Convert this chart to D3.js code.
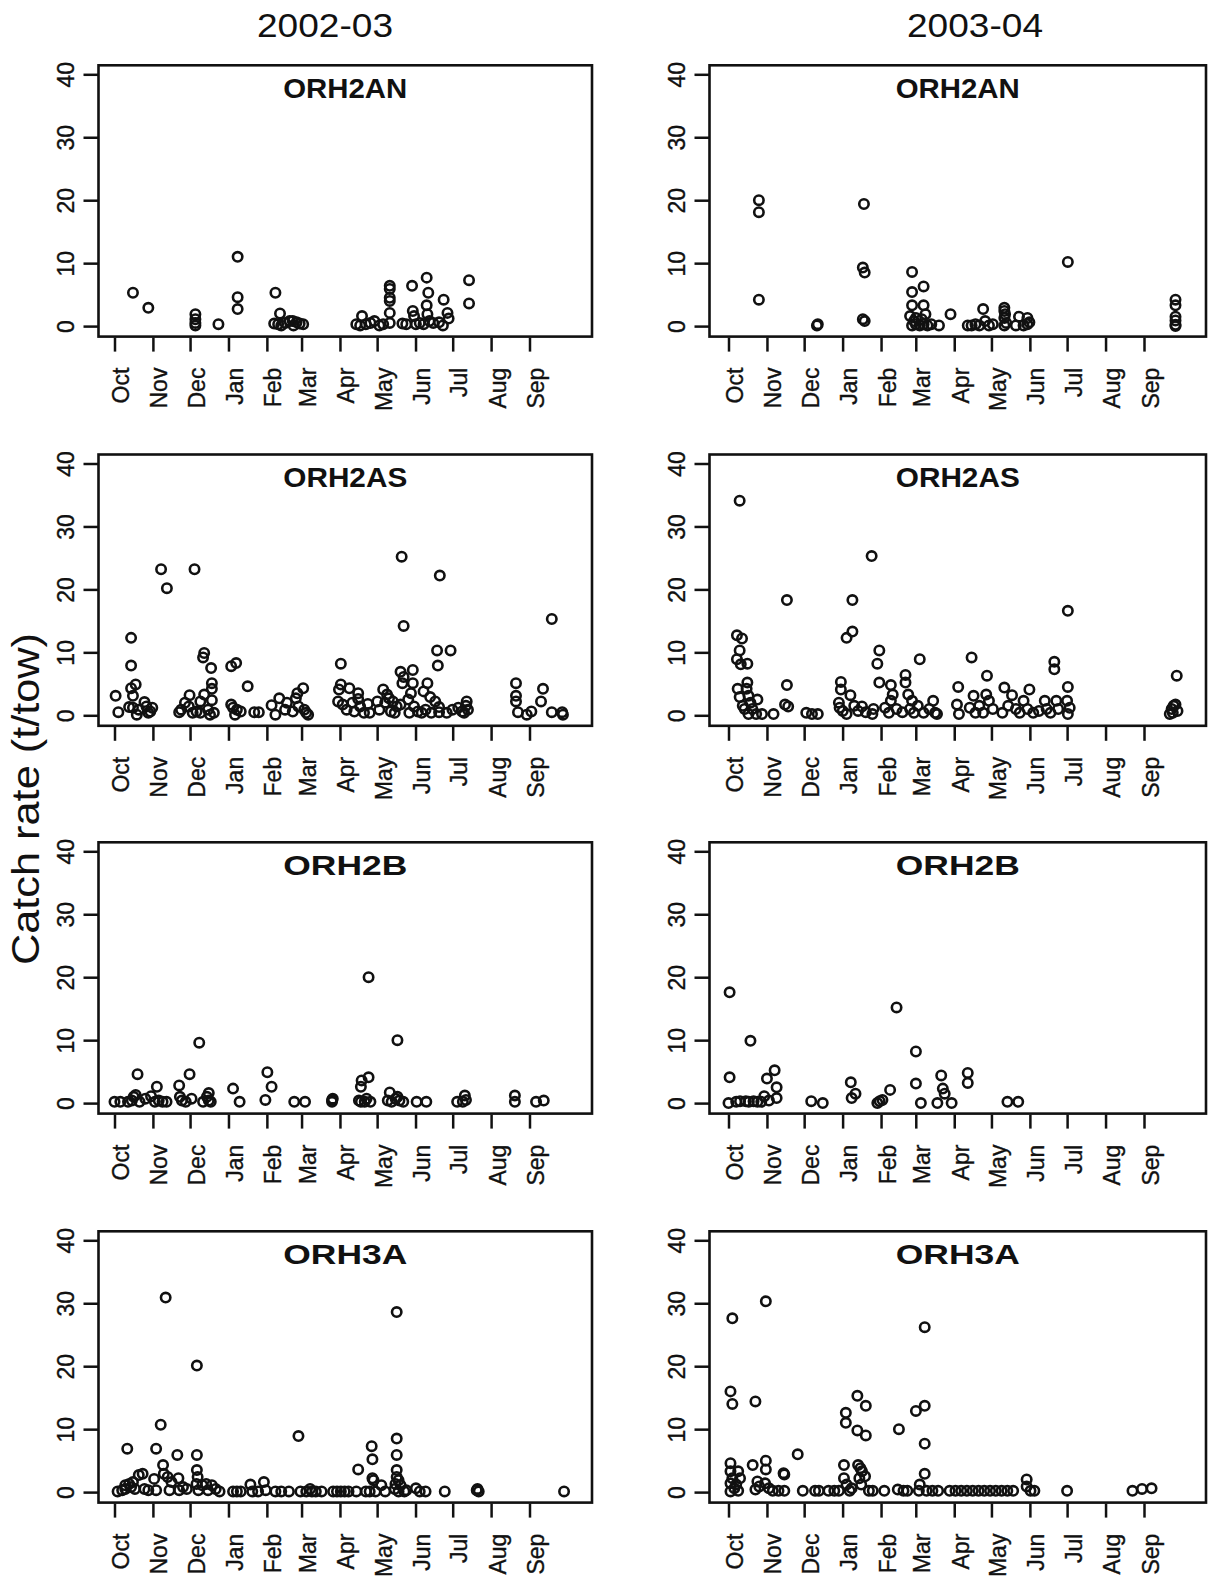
<!DOCTYPE html>
<html>
<head>
<meta charset="utf-8">
<script src="https://cdn.jsdelivr.net/npm/d3@7/dist/d3.min.js"></script>
<style>
  html, body { margin: 0; padding: 0; background: #fff; }
  svg { display: block; }
  text { font-family: "Liberation Sans", Arial, Helvetica, sans-serif; fill: #111; }
</style>
</head>
<body>
<svg id="chart" width="1208" height="1580"></svg>
<script>
// ---------------- DATA ----------------
const seasons = ["2002-03", "2003-04"];
const areas = ["ORH2AN", "ORH2AS", "ORH2B", "ORH3A"];
const monthLabels = ["Oct","Nov","Dec","Jan","Feb","Mar","Apr","May","Jun","Jul","Aug","Sep"];
const monthDays = [0, 31, 61, 92, 123, 151, 182, 212, 243, 273, 304, 335]; // days since 1 Oct
const yTickValues = [0, 10, 20, 30, 40];
const yTitle = "Catch rate (t/tow)";

// each point: [day of fishing year (0 = 1 Oct), catch rate t/tow]
const orh2an_0203 = [
  [14.9,5.3],[27.3,2.9],[65.3,1.9],[65.3,1.1],[65.3,0.5],[65.3,0.1],[83.9,0.3],
  [99.4,11.0],[99.4,4.6],[99.4,2.7],[129.9,5.3],[133.6,2.0],
  [128.9,0.4],[132.1,0.3],[137.7,0.5],[141.4,0.8],[144.5,0.1],[147.0,0.6],[149.5,0.4],[152.3,0.3],[143.9,0.8],[134.6,0.1],
  [195.2,0.3],[198.3,0.1],[199.8,1.6],[202.9,0.3],[206.6,0.5],[209.8,0.8],[213.8,0.1],[216.9,0.3],
  [222.2,6.4],[222.2,5.9],[222.2,4.5],[222.2,4.0],[222.2,2.1],[222.2,0.5],
  [232.4,0.4],[235.5,0.3],[240.2,6.4],[240.8,2.4],[241.8,1.6],[243.3,0.3],[246.4,0.5],
  [252.0,7.7],[253.3,5.3],[252.0,3.3],[252.6,1.9],[249.5,0.3],[254.2,0.8],[257.3,0.5],[262.0,0.6],
  [265.7,4.2],[268.8,2.1],[269.7,1.2],[265.1,0.1],[286.2,7.3],[286.2,3.6]
];
const orh2an_0304 = [
  [24.5,20.0],[24.5,18.1],[24.5,4.2],[71.3,0.1],[72.0,0.3],
  [109.2,19.4],[108.3,9.3],[109.8,8.5],[108.3,1.1],[109.8,0.8],
  [148.0,8.6],[148.0,5.4],[157.3,6.3],[148.0,3.3],[157.3,3.3],[146.4,1.6],[151.1,1.3],[158.8,1.9],
  [148.0,0.1],[151.1,0.3],[154.2,0.1],[157.3,0.3],[160.4,0.1],[163.5,0.3],[169.7,0.1],[149.5,0.8],[155.8,1.1],
  [179.0,1.9],[192.9,0.1],[196.0,0.1],[199.1,0.3],[202.2,0.1],[205.3,2.7],[206.9,0.8],[210.0,0.1],[213.1,0.3],
  [222.4,2.9],[222.4,2.4],[223.0,1.9],[222.4,1.3],[223.9,0.5],[222.4,0.1],
  [234.2,1.5],[231.7,0.1],[237.9,0.1],[241.0,1.3],[242.6,0.6],[241.0,0.3],
  [273.6,10.2],
  [360.4,4.2],[360.4,3.3],[360.4,1.5],[360.4,0.9],[360.4,0.2],[360.4,0.0]
];
const orh2as_0203 = [
  [0.9,3.1],[3.1,0.5],[13.4,12.3],[13.4,7.9],[13.4,4.3],[17.1,4.9],[14.9,3.1],[11.8,1.3],[14.9,1.2],[18.0,0.1],
  [19.6,0.9],[24.2,2.1],[25.8,1.4],[28.9,0.6],[30.5,1.2],[27.3,0.4],
  [37.6,23.2],[42.3,20.2],
  [64.6,23.2],[60.6,3.2],[56.9,2.0],[52.2,0.5],[53.8,0.9],[60.0,1.4],[63.1,0.4],[66.2,0.6],[72.4,9.9],[71.5,9.2],
  [78.0,7.5],[78.6,5.1],[78.6,4.2],[72.4,3.3],[69.3,2.2],[78.6,2.4],[75.5,0.9],[80.2,0.4],[69.3,0.4],[77.1,0.1],
  [94.2,7.8],[98.2,8.3],[94.2,1.7],[95.7,1.2],[98.8,0.9],[101.9,0.6],[97.3,0.1],[107.5,4.6],[112.8,0.5],[116.5,0.5],
  [126.8,1.6],[129.9,0.1],[133.0,2.7],[137.7,0.9],[139.2,2.0],[143.9,0.6],[146.4,2.7],[148.5,1.4],[152.3,4.3],
  [147.6,3.5],[154.8,0.4],[153.2,0.9],[156.3,0.1],
  [182.7,8.2],[182.7,4.9],[181.2,4.1],[180.5,2.2],[184.2,1.7],[187.4,0.9],[189.6,4.3],[192.0,2.0],[196.7,3.5],
  [196.7,2.6],[198.3,1.4],[193.6,0.6],[201.4,0.4],[204.5,1.8],[206.0,0.4],[212.2,2.2],[213.8,0.9],
  [216.9,4.1],[220.0,3.3],[218.5,2.0],[221.6,2.7],[224.7,2.2],[227.8,1.4],[230.9,1.7],[223.1,0.6],[226.2,0.4],
  [231.8,25.2],[233.4,14.2],[230.9,6.9],[233.4,6.1],[232.4,5.1],[240.8,7.2],[240.8,5.1],[239.3,3.5],[237.1,2.5],
  [241.8,1.4],[244.9,0.6],[248.0,0.4],[238.0,0.4],[252.6,5.1],[249.5,3.8],[254.8,2.9],[258.9,2.2],[262.0,1.3],
  [255.7,0.4],[251.1,0.9],
  [262.6,22.2],[260.4,10.3],[261.0,7.9],[271.3,10.3],
  [262.0,0.5],[268.2,0.4],[272.8,0.9],[277.5,1.2],[280.6,0.6],[284.3,2.2],[283.7,1.5],[285.3,0.9],[282.2,0.4],
  [324.1,5.1],[324.1,3.1],[324.1,2.2],[325.7,0.5],[332.8,0.1],[336.5,0.6],[345.9,4.2],[344.3,2.2],
  [353.0,15.3],[353.0,0.5],[361.4,0.5],[362.0,0.1]
];
const orh2as_0304 = [
  [9.0,34.1],
  [6.8,12.7],[10.9,12.2],[9.0,10.3],[6.8,8.9],[9.9,8.1],[15.2,8.2],[7.4,4.2],[9.0,2.9],[15.2,5.2],[14.6,4.2],
  [16.1,3.1],[11.5,1.5],[13.0,1.0],[17.7,2.0],[19.2,1.0],[23.3,2.5],[16.1,0.2],[22.3,0.2],[27.0,0.2],[36.3,0.2],
  [47.1,18.3],[47.1,4.8],[45.6,1.7],[48.1,1.4],
  [62.7,0.4],[67.3,0.2],[72.0,0.2],
  [90.6,5.3],[90.6,4.1],[89.0,2.0],[89.6,1.2],[92.1,0.7],[95.2,0.2],[95.2,12.3],[99.9,18.3],[99.9,13.3],[98.3,3.2],
  [101.4,1.5],[104.5,0.7],[107.6,1.4],[110.7,0.5],[116.9,1.0],
  [115.4,25.3],[116.0,0.2],
  [121.6,10.3],[120.0,8.2],[121.6,5.2],[130.9,4.8],[132.4,3.3],[130.9,2.3],[126.2,1.2],[129.3,0.4],[135.5,1.0],
  [140.2,0.5],[142.7,6.4],[142.7,5.2],[144.9,3.3],[148.0,2.3],[146.4,1.0],[149.5,0.4],
  [154.2,8.9],[152.6,1.5],[157.3,0.4],[161.9,1.0],[165.0,2.3],[166.6,0.4],[168.1,0.2],
  [185.2,4.5],[184.2,1.7],[185.8,0.2],[196.0,9.2],[197.6,3.1],[194.5,1.2],[199.1,0.4],[202.2,1.5],[208.4,6.3],
  [207.8,3.3],[210.0,2.3],[205.3,0.4],[213.1,1.0],
  [222.4,4.4],[228.6,3.2],[225.5,1.5],[220.8,0.4],[231.7,1.0],[237.9,2.3],[234.8,0.4],[241.0,1.0],[242.6,4.1],[245.7,0.4],
  [250.3,0.7],[255.0,2.3],[256.5,1.0],[259.6,0.4],[262.7,8.5],[262.7,7.3],[264.3,2.3],[265.8,1.0],
  [273.6,16.6],[273.6,4.5],[273.0,2.3],[275.1,1.2],[273.6,0.2],
  [361.4,6.3],[355.8,0.2],[357.3,1.0],[358.9,1.5],[360.4,1.7],[362.0,0.7],[358.2,0.4]
];
const orh2b_0203 = [
  [0.0,0.2],[4.7,0.2],[10.9,0.2],[14.0,0.4],[15.5,1.0],[17.1,1.3],[18.6,4.6],[20.2,0.2],[24.9,0.7],[29.5,1.1],
  [32.6,0.2],[34.2,2.6],[35.7,0.4],[38.8,0.2],[42.0,0.2],
  [52.2,2.8],[52.8,1.0],[54.4,0.4],[57.5,0.2],[60.6,4.6],[62.2,0.7],[68.4,9.6],[71.5,0.2],[74.6,1.0],[76.1,1.6],
  [77.7,0.2],[76.1,0.4],
  [95.7,2.3],[101.0,0.2],[123.4,4.9],[126.8,2.6],[121.8,0.5],[145.1,0.2],[153.8,0.2],
  [175.6,0.2],[175.6,0.5],[176.2,0.7],
  [198.9,2.6],[199.5,3.6],[197.3,0.4],[198.9,0.2],[202.0,0.2],[203.5,0.7],[205.1,20.0],[205.1,4.1],[206.6,0.2],
  [222.2,1.7],[220.6,0.4],[223.7,0.2],[226.9,0.7],[228.4,10.0],[228.4,1.0],[230.0,0.4],[233.1,0.2],
  [243.9,0.2],[251.7,0.2],
  [276.6,0.2],[282.8,1.2],[283.7,0.5],[281.2,0.2],
  [323.2,1.2],[323.2,0.2],[340.3,0.2],[346.5,0.4]
];
const orh2b_0304 = [
  [0.9,17.6],[0.9,4.1],[0.0,0.0],[6.2,0.2],[9.3,0.3],[14.0,0.3],[16.4,0.2],[20.2,0.3],[23.3,0.2],[26.4,0.2],
  [17.7,9.9],
  [28.8,1.1],[31.0,3.9],[37.2,5.2],[38.8,2.5],[38.8,0.8],[32.6,0.4],
  [66.7,0.3],[76.0,0.0],
  [98.6,3.3],[102.4,1.5],[99.3,0.8],
  [120.0,0.0],[121.9,0.3],[124.1,0.5],[130.3,2.1],[135.5,15.2],
  [151.1,8.2],[151.1,3.1],[155.1,0.0],
  [168.4,0.0],[171.5,4.4],[172.8,2.3],[174.3,1.5],[179.9,0.0],
  [192.9,4.8],[192.9,3.2],
  [224.9,0.2],[233.6,0.2]
];
const orh3a_0203 = [
  [2.5,0.1],[6.2,0.3],[8.7,0.5],[10.3,6.9],[8.7,1.1],[11.8,1.3],[13.4,0.8],[14.9,1.6],[16.5,0.5],[19.6,2.7],
  [22.7,2.9],[24.2,0.5],[27.3,0.3],
  [33.6,6.9],[32.0,2.1],[33.6,0.3],[37.3,10.7],[39.2,4.3],[41.3,30.9],[39.8,2.9],[42.9,2.4],[46.0,1.6],[44.4,0.3],
  [50.7,5.9],[51.6,2.2],[52.2,0.3],[55.3,0.8],[58.4,0.5],
  [66.5,20.1],[66.5,5.9],[66.5,3.5],[67.1,2.4],[66.2,1.3],[67.7,0.3],[70.9,1.1],[74.0,1.3],[75.5,0.3],[78.6,1.1],
  [81.7,0.5],[84.8,0.1],
  [95.7,0.1],[98.8,0.1],[101.9,0.1],[109.7,1.2],[111.2,0.1],[115.9,0.1],[120.6,1.6],[122.1,0.3],
  [129.9,0.1],[134.6,0.1],[140.8,0.1],
  [148.5,8.9],[150.1,0.1],[154.8,0.1],[157.9,0.5],[159.4,0.1],[162.5,0.1],[167.2,0.1],
  [176.5,0.1],[179.6,0.1],[182.7,0.1],[185.8,0.1],[188.9,0.1],[195.2,0.1],[196.7,3.6],[202.9,0.1],
  [207.6,7.3],[208.2,5.2],[208.2,2.2],[209.1,1.9],[206.0,0.1],[210.7,0.1],[215.4,1.1],[218.5,0.1],
  [227.8,28.6],[227.8,8.5],[227.8,5.9],[227.8,3.5],[227.8,2.4],[229.3,1.9],[226.8,1.3],[230.9,1.1],[226.2,0.5],
  [229.3,0.1],[234.0,0.1],[235.5,0.3],
  [243.3,0.6],[246.4,0.1],[251.1,0.1],[266.6,0.1],
  [293.0,0.5],[294.0,0.1],[292.4,0.3],
  [362.9,0.1]
];
const orh3a_0304 = [
  [3.1,27.6],[1.6,16.0],[3.1,14.0],[1.6,4.6],[1.6,3.3],[3.1,2.2],[1.6,1.4],[4.7,0.6],[1.6,0.1],[7.8,3.3],
  [9.3,2.2],[6.2,1.2],[7.8,0.2],
  [21.7,14.4],[19.5,4.3],[23.3,1.7],[24.8,0.9],[21.7,0.4],[30.1,30.3],[30.1,5.0],[30.1,3.6],[29.5,1.4],[32.6,0.6],
  [35.7,0.2],[40.3,0.2],[45.0,0.2],[44.4,3.0],[45.0,2.8],
  [55.8,6.0],[59.9,0.2],[69.8,0.2],[72.9,0.2],[80.6,0.2],[85.3,0.2],
  [89.0,0.2],[94.6,11.0],[94.6,12.6],[93.1,4.3],[93.1,2.2],[95.2,1.2],[97.7,0.2],[99.3,0.6],
  [103.9,15.3],[103.9,9.8],[110.7,13.7],[110.7,9.0],[104.5,4.3],[106.4,3.8],[107.6,3.3],[110.1,2.5],[105.5,2.2],
  [107.0,1.2],[113.2,0.2],[116.3,0.2],[125.6,0.2],
  [137.4,10.0],[136.5,0.4],[141.1,0.2],[144.2,0.2],
  [151.1,12.9],[158.2,13.7],[158.2,26.2],[158.2,7.7],[158.2,2.9],[154.2,1.2],[153.5,0.2],[159.7,0.2],[164.4,0.2],[169.0,0.2],
  [178.3,0.2],[183.0,0.2],[187.6,0.2],[192.2,0.2],[196.9,0.2],[201.6,0.2],[206.2,0.2],[210.9,0.2],[215.5,0.2],
  [220.2,0.2],[224.8,0.2],[229.5,0.2],
  [240.4,2.0],[240.4,0.9],[243.5,0.2],[246.6,0.2],
  [273.0,0.2],
  [325.7,0.2],[333.4,0.5],[341.1,0.6]
];

const panelData = [
  [orh2an_0203, orh2an_0304],
  [orh2as_0203, orh2as_0304],
  [orh2b_0203,  orh2b_0304],
  [orh3a_0203,  orh3a_0304]
];

// ---------------- LAYOUT ----------------
const cols = [
  { boxL: 98.5, boxR: 592,  octX: 114.5, sepX: 529.5, headX: 325 },
  { boxL: 709.5, boxR: 1206, octX: 728.5, sepX: 1144,  headX: 975 }
];
const rowTop40 = [74.3, 463.5, 851.3, 1240.3];
const zeroOffset = 251.8;

const svg = d3.select("#chart");

// column headers
seasons.forEach((s, ci) => {
  svg.append("text")
    .attr("x", cols[ci].headX).attr("y", 37)
    .attr("text-anchor", "middle")
    .attr("font-size", 34)
    .attr("textLength", 136).attr("lengthAdjust", "spacingAndGlyphs")
    .text(s);
});

// y axis title
svg.append("text")
  .attr("transform", "translate(39,799) rotate(-90)")
  .attr("text-anchor", "middle")
  .attr("font-size", 38)
  .attr("textLength", 332).attr("lengthAdjust", "spacingAndGlyphs")
  .text(yTitle);

areas.forEach((area, ri) => {
  seasons.forEach((season, ci) => {
    const c = cols[ci];
    const y40 = rowTop40[ri];
    const y0 = y40 + zeroOffset;
    const boxT = y40 - 9, boxB = y0 + 10.5;

    const x = d3.scaleLinear().domain([0, 335]).range([c.octX, c.sepX]);
    const y = d3.scaleLinear().domain([0, 40]).range([y0, y40]);

    const g = svg.append("g");

    // points
    g.append("g").selectAll("circle")
      .data(panelData[ri][ci])
      .join("circle")
      .attr("cx", d => x(d[0]))
      .attr("cy", d => y(d[1]))
      .attr("r", 4.7)
      .attr("fill", "none")
      .attr("stroke", "#111")
      .attr("stroke-width", 2.6);

    // box
    g.append("rect")
      .attr("x", c.boxL).attr("y", boxT)
      .attr("width", c.boxR - c.boxL).attr("height", boxB - boxT)
      .attr("fill", "none").attr("stroke", "#111").attr("stroke-width", 2.6);

    // y axis
    const yAxis = d3.axisLeft(y).tickValues(yTickValues).tickSize(15).tickPadding(0);
    const yg = g.append("g").attr("transform", `translate(${c.boxL},0)`).call(yAxis);
    yg.select(".domain").remove();
    yg.selectAll(".tick line").attr("stroke", "#111").attr("stroke-width", 2.5);
    yg.selectAll(".tick text")
      .attr("x", null).attr("dy", null)
      .attr("transform", `translate(${-24.5},0) rotate(-90)`)
      .attr("text-anchor", "middle")
      .attr("font-size", 23)
      .attr("font-family", "Liberation Sans, Arial, sans-serif")
      .attr("fill", "#111").attr("stroke", "#111").attr("stroke-width", 0.35);

    // x axis
    const xAxis = d3.axisBottom(x).tickValues(monthDays)
      .tickFormat((d, i) => monthLabels[i]).tickSize(14).tickPadding(0);
    const xg = g.append("g").attr("transform", `translate(0,${boxB + 1})`).call(xAxis);
    xg.select(".domain").remove();
    xg.selectAll(".tick line").attr("stroke", "#111").attr("stroke-width", 2.5);
    xg.selectAll(".tick text")
      .attr("y", null).attr("dy", null)
      .attr("transform", `translate(14,30) rotate(-90)`)
      .attr("text-anchor", "end")
      .attr("font-size", 23)
      .attr("font-family", "Liberation Sans, Arial, sans-serif")
      .attr("fill", "#111").attr("stroke", "#111").attr("stroke-width", 0.35);

    // panel title
    g.append("text")
      .attr("x", (c.boxL + c.boxR) / 2).attr("y", boxT + 32.5)
      .attr("text-anchor", "middle")
      .attr("font-size", 28).attr("font-weight", "bold")
      .attr("textLength", 124).attr("lengthAdjust", "spacingAndGlyphs")
      .text(area);
  });
});
</script>
</body>
</html>
